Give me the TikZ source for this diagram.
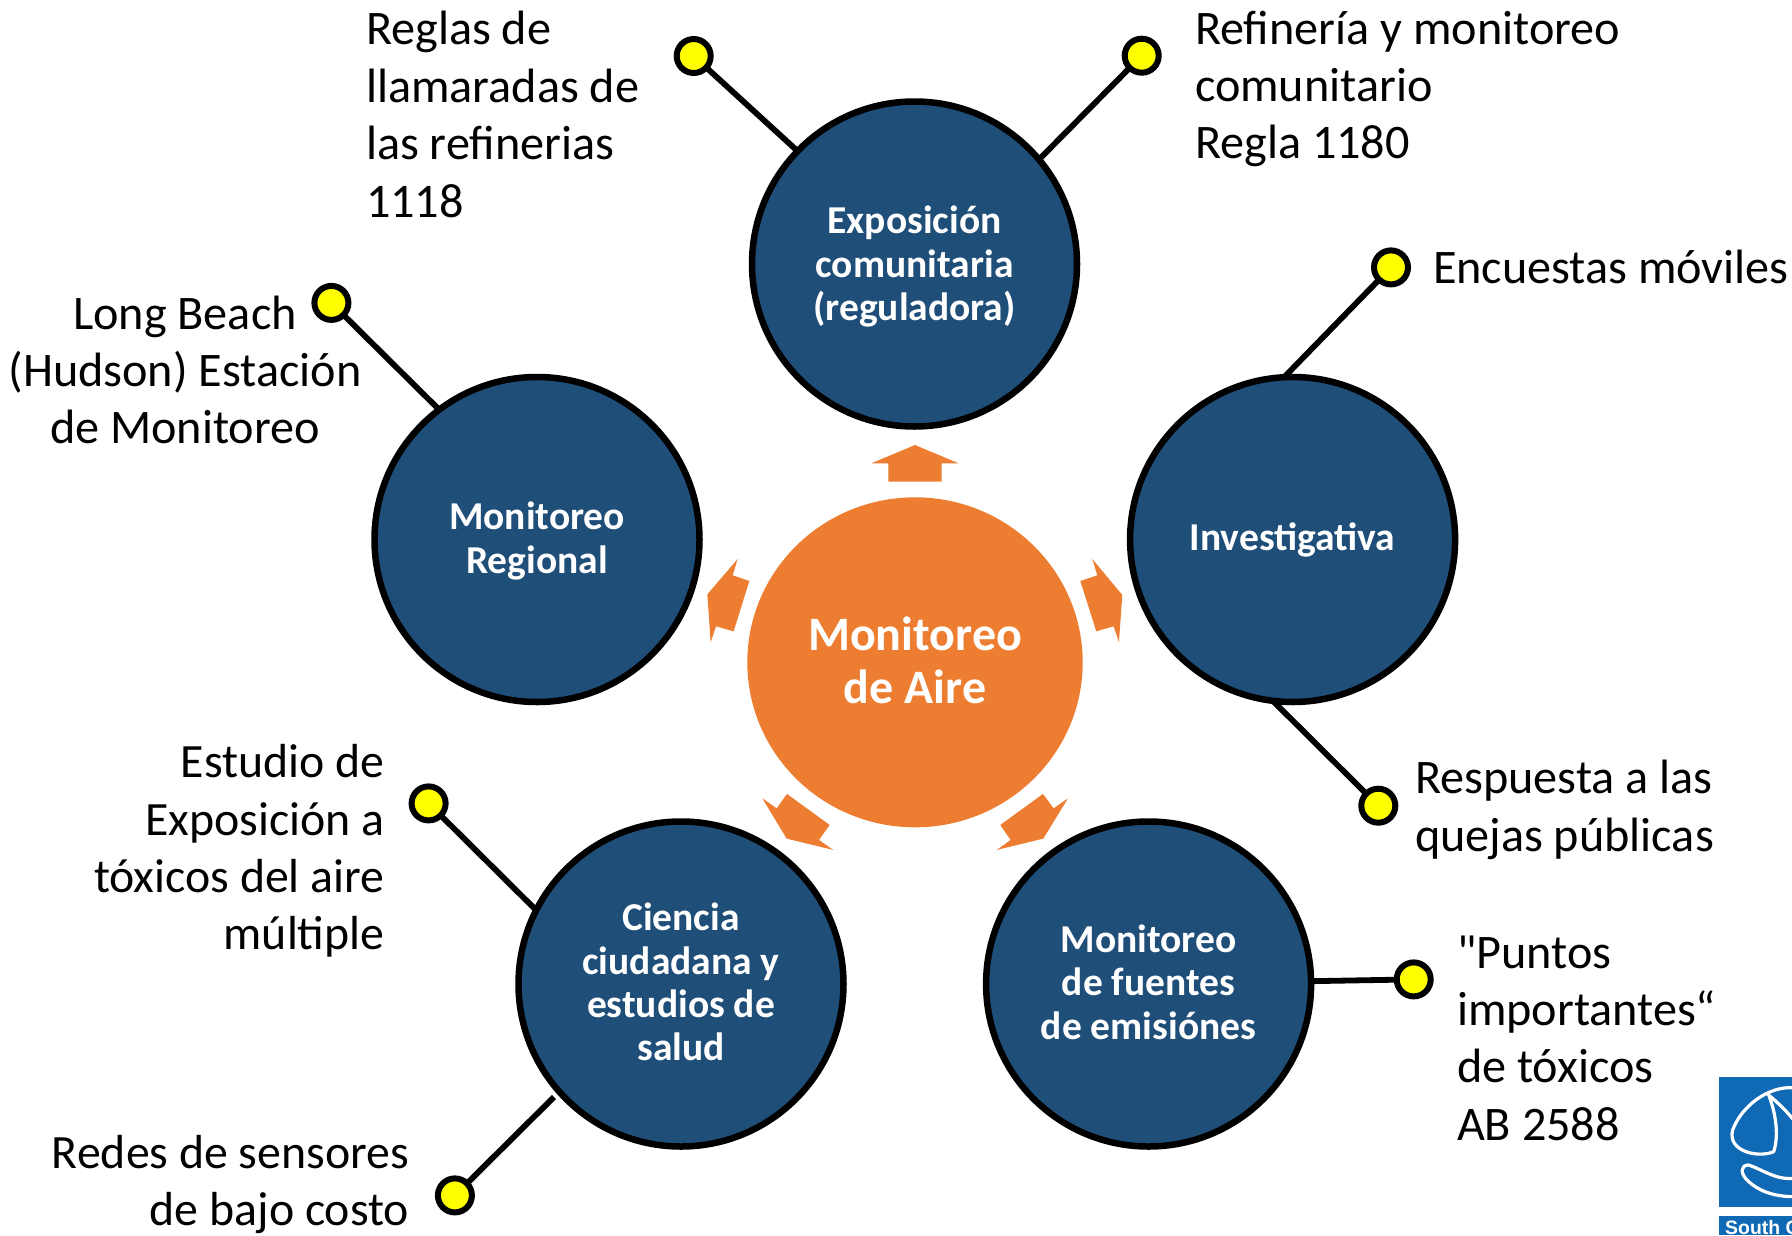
\documentclass[tikz,border=0pt]{standalone}
\usepackage{fontspec}
\usetikzlibrary{shapes.geometric}
\setmainfont{Carlito}
\newfontfamily\plainquote{Carlito}
\newfontfamily\logofont{Liberation Sans}
\definecolor{navyfill}{HTML}{1F4E79}
\definecolor{orangefill}{HTML}{ED7D31}
\definecolor{dotfill}{HTML}{FFFF00}
\definecolor{logoblue}{HTML}{1069B4}
\tikzset{
  topic/.style={circle,draw=black,line width=6.5pt,fill=navyfill,minimum size=325pt,inner sep=0pt,outer sep=0pt},
  topictext/.style={inner sep=0pt,outer sep=0pt,text=white,align=center,font=\fontsize{39.5}{43.4}\selectfont\bfseries},
  hub/.style={ellipse,fill=orangefill,minimum width=335.4pt,minimum height=330pt,inner sep=0pt,outer sep=0pt},
  hubtext/.style={inner sep=0pt,outer sep=0pt,text=white,align=center,font=\fontsize{48}{53}\selectfont\bfseries},
  dot/.style={circle,draw=black,line width=6pt,fill=dotfill,minimum size=34pt,inner sep=0pt,outer sep=0pt},
  stem/.style={draw=black,line width=5.8pt},
  spoke/.style={fill=orangefill},
  lab/.style={inner sep=0pt,outer sep=0pt,text=black,font=\fontsize{48.2}{57.4}\selectfont},
  logoline/.style={draw=white,line width=3.2pt,line cap=round,line join=round}
}
\begin{document}
\begin{tikzpicture}[x=1pt,y=-1pt]
\useasboundingbox (0,0) rectangle (1792,1235);
% hub and topics
\node[hub,label={[hubtext,yshift=2pt]center:Monitoreo\\de Aire}] (hub) at (915,662.3) {};
\node[topic,label={[topictext,yshift=-2.5pt]center:Exposición\\comunitaria\\(reguladora)}] (top) at (914.5,264) {};
\node[topic,label={[topictext,yshift=-1.5pt]center:Monitoreo\\Regional}] (left) at (537,539.5) {};
\node[topic,label={[topictext,yshift=0pt]center:Investigativa}] (right) at (1292.6,539.5) {};
\node[topic,label={[topictext,yshift=2pt]center:Ciencia\\ciudadana y\\estudios de\\salud}] (bl) at (681,984) {};
\node[topic,label={[topictext,yshift=2pt]center:Monitoreo\\de fuentes\\de emisiónes}] (br) at (1148.6,984) {};
% block arrows
\begin{scope}[shift={(680,420)},x=0.3333pt,y=-0.3333pt]
\fill[spoke] (705,75) -- (836,130) -- (785,130) -- (785,185) -- (625,185) -- (625,130) -- (574,130) -- cycle;
\fill[spoke] (1237,417) -- (1327,525) -- (1317,667) -- (1301,619) -- (1249,634) -- (1201,483) -- (1252,466) -- cycle;
\fill[spoke] (173,417) -- (82,523) -- (92,667) -- (108,619) -- (161,634) -- (208,483) -- (158,466) -- cycle;
\fill[spoke] (247,1135) -- (320,1256) -- (460,1290) -- (417,1260) -- (449,1215) -- (321,1122) -- (290,1165) -- cycle;
\fill[spoke] (1164,1135) -- (1090,1256) -- (950,1290) -- (992,1260) -- (961,1215) -- (1089,1122) -- (1121,1165) -- cycle;
\end{scope}
% dots
\node[dot] (d1) at (693.7,56) {};
\node[dot] (d2) at (1141.7,55.7) {};
\node[dot] (d3) at (1391,267.4) {};
\node[dot] (d4) at (1378.3,805.7) {};
\node[dot] (d5) at (1413.7,979.4) {};
\node[dot] (d6) at (454.9,1195.4) {};
\node[dot] (d7) at (428.6,803.4) {};
\node[dot] (d8) at (331.4,302.9) {};
% connectors
\draw[stem] (d1) -- (top.136);
\draw[stem] (d2) -- (top.40);
\draw[stem] (d3) -- (right.93);
\draw[stem] (d4) -- (right.263);
\draw[stem] (d5) -- (br.1);
\coordinate (blgap) at (554,1097);
\draw[stem] (d6) -- (blgap);
\draw[stem] (d7) -- (bl.153);
\draw[stem] (d8) -- (left.127);
% labels
\node[lab,anchor=west,align=left] (t1) at (366,114.5) {Reglas de\\llamaradas de\\las refinerias\\1118};
\node[lab,anchor=west,align=left] (t2) at (1195,89) {Refinería y monitoreo\\comunitario\\Regla 1180};
\node[lab,anchor=west,align=left] (t3) at (1433,267) {Encuestas móviles};
\node[lab,anchor=west,align=left] (t4) at (1415,810) {Respuesta a las\\quejas públicas};
\node[lab,anchor=west,align=left] (t5) at (1457,1038) {{\plainquote "}Puntos\\importantes“\\de tóxicos\\AB 2588};
\node[lab,anchor=east,align=right,font=\fontsize{47.8}{57.4}\selectfont] (t6) at (409,1184.5) {Redes de sensores\\de bajo costo};
\node[lab,anchor=east,align=right,font=\fontsize{47.8}{57.4}\selectfont] (t7) at (384.5,851) {Estudio de\\Exposición a\\tóxicos del aire\\múltiple};
\node[lab,align=center] (t8) at (185,370) {Long Beach\\(Hudson) Estación\\de Monitoreo};
% logo
\begin{scope}
\clip (1600,1000) rectangle (1792,1235);
\fill[logoblue] (1719.3,1076.7) rectangle (1792,1206.7);
\fill[logoblue] (1719.3,1216) rectangle (1792,1235);
\begin{scope}[shift={(1672,1055)},x=0.3333pt,y=-0.3333pt]
\draw[logoline] (360,98) .. controls (290,95) and (210,150) .. (182,225) .. controls (165,290) and (260,310) .. (305,290) .. controls (322,240) and (310,170) .. (290,120) .. controls (320,145) and (345,170) .. (365,195);
\draw[logoline] (365,370) .. controls (310,375) and (275,345) .. (230,330) .. controls (205,330) and (205,355) .. (225,375) .. controls (260,410) and (310,425) .. (365,425);
\end{scope}
\node[anchor=base west,inner sep=0pt,text=white,font=\logofont\fontsize{19.4}{22}\selectfont\bfseries] (logotext) at (1725,1234) {South C};
\end{scope}
\end{tikzpicture}
\end{document}
